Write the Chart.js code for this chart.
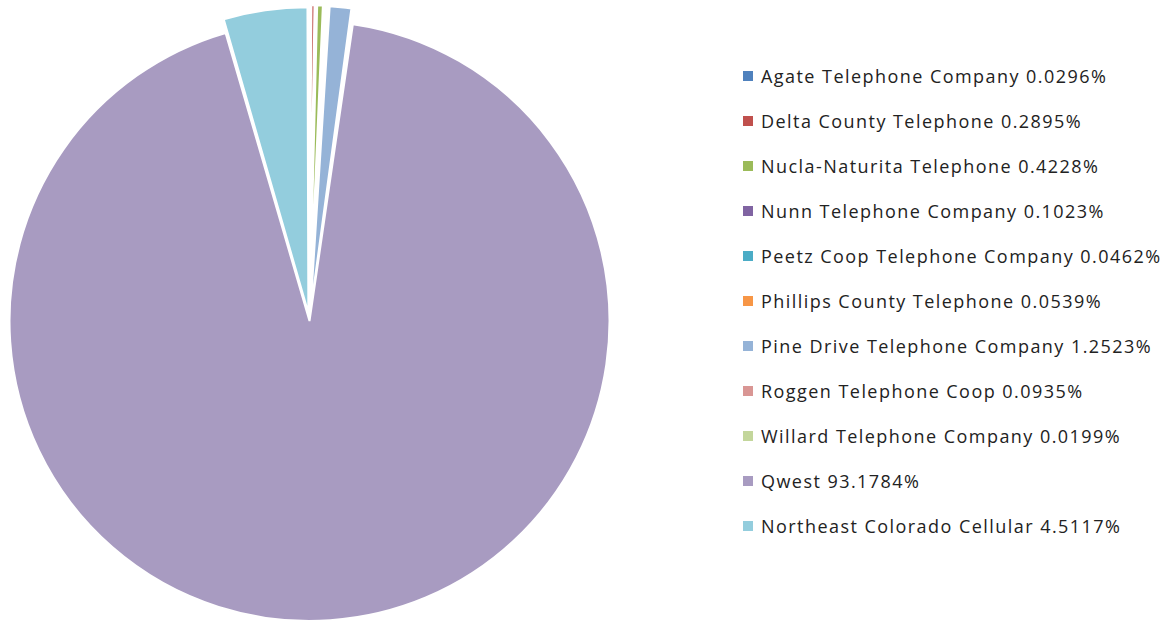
<!DOCTYPE html>
<html>
<head>
<meta charset="utf-8">
<script src="https://cdn.jsdelivr.net/npm/chart.js@4/dist/chart.umd.min.js"></script>
<style>
  html, body { margin: 0; padding: 0; background: #fff; }
  body { width: 1173px; height: 625px; position: relative; overflow: hidden; }
  #pieBox { position: absolute; left: 0; top: 0; width: 619px; height: 625px; }
  #legend { position: absolute; left: 743px; top: 53px; font-family: "Open Sans", sans-serif; font-size: 18px; letter-spacing: 1.45px; color: #222; }
  #legend .row { height: 45.1px; display: flex; align-items: center; white-space: nowrap; }
  #legend .box { width: 10px; height: 10px; margin-right: 8px; flex: none; }
</style>
</head>
<body>
<div id="pieBox"><canvas id="grafPizza"></canvas></div>
<div id="legend"></div>
<script>
// dados
const companies = [
  'Agate Telephone Company',
  'Delta County Telephone',
  'Nucla-Naturita Telephone',
  'Nunn Telephone Company',
  'Peetz Coop Telephone Company',
  'Phillips County Telephone',
  'Pine Drive Telephone Company',
  'Roggen Telephone Coop',
  'Willard Telephone Company',
  'Qwest',
  'Northeast Colorado Cellular'
];
const shares = [0.0296, 0.2895, 0.4228, 0.1023, 0.0462, 0.0539, 1.2523, 0.0935, 0.0199, 93.1784, 4.5117];

const colors = [
  '#4F81BD', '#C0504D', '#9BBB59', '#8064A2', '#4BACC6', '#F79646',
  '#95B3D7', '#D99694', '#C3D69B', '#A89BC1', '#93CDDD'
];
// all slices pulled out except Qwest (chart.js moves the arc by offset/2)
const offsets = companies.map(c => c === 'Qwest' ? 0 : 32);

const labels = companies.map((c, i) => c + ' ' + shares[i].toFixed(4) + '%');

const cty = document.getElementById('grafPizza').getContext('2d');
const myCharty = new Chart(cty, {
  type: 'pie',
  data: {
    labels: labels,
    datasets: [{
      data: shares,
      backgroundColor: colors,
      borderColor: '#ffffff',
      borderWidth: 2,
      offset: offsets
    }]
  },
  options: {
    responsive: true,
    maintainAspectRatio: false,
    animation: false,
    radius: 300,
    layout: { padding: { top: 17 } },
    plugins: {
      legend: { display: false },
      tooltip: { enabled: false }
    }
  }
});

// legenda em html
const legendEl = document.getElementById('legend');
labels.forEach((txt, i) => {
  const row = document.createElement('div');
  row.className = 'row';
  const box = document.createElement('span');
  box.className = 'box';
  box.style.background = colors[i];
  const t = document.createElement('span');
  t.textContent = txt;
  row.appendChild(box);
  row.appendChild(t);
  legendEl.appendChild(row);
});
</script>
</body>
</html>
